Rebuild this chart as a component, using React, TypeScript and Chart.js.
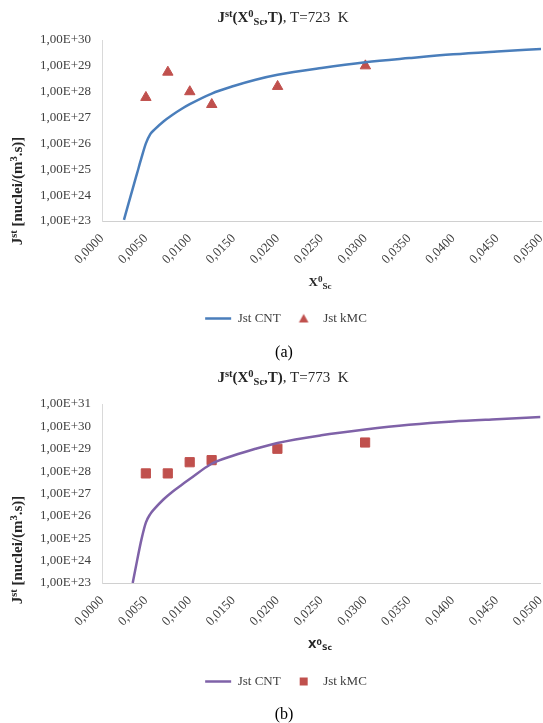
import React, { useEffect, useRef } from 'react';
import { Chart, registerables } from 'chart.js';

Chart.register(...registerables);

// ---------- DATA ----------
const legendLabels = ['Jst CNT', 'Jst kMC'];

// Panel (a) T = 723 K
const cntXA = [0.0025, 0.003, 0.0035, 0.004, 0.0045, 0.005, 0.0055, 0.006, 0.007, 0.008, 0.009, 0.01, 0.0125, 0.015, 0.0175, 0.02, 0.025, 0.03, 0.035, 0.04, 0.045, 0.05];
const cntYA = [1.1e23, 4.5e23, 1.8e24, 7.1e24, 2.8e25, 1.0e26, 2.3e26, 3.5e26, 7.1e26, 1.26e27, 2.1e27, 3.3e27, 8.5e27, 1.66e28, 2.9e28, 4.5e28, 8.3e28, 1.38e29, 2.0e29, 2.8e29, 3.6e29, 4.5e29];
const kmcXA = [0.005, 0.0075, 0.01, 0.0125, 0.02, 0.03];
const kmcYA = [6.0e27, 5.7e28, 1.0e28, 3.2e27, 1.6e28, 1.0e29];
const yExpA = [23, 24, 25, 26, 27, 28, 29, 30];

// Panel (b) T = 773 K
const cntXB = [0.0035, 0.004, 0.0045, 0.005, 0.0055, 0.006, 0.007, 0.008, 0.009, 0.01, 0.0125, 0.015, 0.0175, 0.02, 0.025, 0.03, 0.035, 0.04, 0.045, 0.05];
const cntYB = [1.0e23, 1.0e24, 8.9e24, 5.0e25, 1.2e26, 2.1e26, 5.4e26, 1.17e27, 2.3e27, 4.4e27, 2.14e28, 5.0e28, 1.0e29, 1.82e29, 4.0e29, 7.2e29, 1.17e30, 1.66e30, 2.1e30, 2.6e30];
const kmcXB = [0.005, 0.0075, 0.01, 0.0125, 0.02, 0.03];
const kmcYB = [7.9e27, 7.9e27, 2.5e28, 3.1e28, 1.0e29, 1.9e29];
const yExpB = [23, 24, 25, 26, 27, 28, 29, 30, 31];

const xMin = 0;
const xMax = 0.05;
const xStep = 0.005;

// ---------- CHART ----------
const SERIF = "'Liberation Serif', 'Times New Roman', serif";
const MARKER = '#C0504D';
const CANVAS_W = 548;

type PanelCfg = {
  cntX: number[];
  cntY: number[];
  kmcX: number[];
  kmcY: number[];
  yExp: number[];
  lineColor: string;
  markerStyle: string;
  markerRadius: number;
  padTop: number;
  padBottom: number;
  xAxisHeight: number;
};

function legendMarker(style: string): HTMLCanvasElement {
  const c = document.createElement('canvas');
  c.width = 12;
  c.height = 12;
  const ctx = c.getContext('2d')!;
  ctx.fillStyle = MARKER;
  if (style === 'triangle') {
    ctx.beginPath();
    ctx.moveTo(6, 1.5);
    ctx.lineTo(10.8, 10);
    ctx.lineTo(1.2, 10);
    ctx.closePath();
    ctx.fill();
  } else {
    ctx.fillRect(2, 2, 8, 8);
  }
  return c;
}

function buildConfig(p: PanelCfg): any {
  const legendShift = {
    id: 'legendShift',
    afterLayout(chart: any) {
      const l = chart.legend;
      if (l) {
        l.left += 12;
        l.right += 12;
      }
    },
  };
  const marker = legendMarker(p.markerStyle);
  return {
    type: 'scatter',
    data: {
      datasets: [
        {
          label: legendLabels[0],
          data: p.cntX.map((x, i) => ({ x, y: p.cntY[i] })),
          showLine: true,
          borderColor: p.lineColor,
          backgroundColor: p.lineColor,
          borderWidth: 2.5,
          pointRadius: 0,
          pointHoverRadius: 0,
          pointStyle: 'line',
          cubicInterpolationMode: 'monotone',
          order: 1,
        },
        {
          label: legendLabels[1],
          data: p.kmcX.map((x, i) => ({ x, y: p.kmcY[i] })),
          showLine: false,
          pointStyle: p.markerStyle,
          pointRadius: p.markerRadius,
          pointHoverRadius: p.markerRadius,
          backgroundColor: MARKER,
          borderColor: MARKER,
          borderWidth: 1,
          order: 2,
        },
      ],
    },
    options: {
      animation: false,
      responsive: false,
      maintainAspectRatio: false,
      events: [],
      layout: { padding: { top: p.padTop, bottom: p.padBottom, left: 0, right: 0 } },
      scales: {
        x: {
          type: 'linear',
          min: xMin,
          max: xMax,
          grid: { display: false, drawTicks: false },
          border: { display: true, color: '#D0D0D0', width: 1 },
          ticks: {
            stepSize: xStep,
            minRotation: 45,
            maxRotation: 45,
            padding: 10,
            color: '#404040',
            font: { family: SERIF, size: 13 },
            callback: (v: number) => v.toFixed(4).replace('.', ','),
          },
          afterFit: (s: any) => {
            s.height = p.xAxisHeight;
            s.paddingRight = 0;
            s.paddingLeft = 0;
          },
        },
        y: {
          type: 'logarithmic',
          min: Math.pow(10, p.yExp[0]),
          max: Math.pow(10, p.yExp[p.yExp.length - 1]),
          grid: { display: false, drawTicks: false },
          border: { display: true, color: '#D9D9D9', width: 1 },
          afterBuildTicks: (s: any) => {
            s.ticks = p.yExp.map((e) => ({ value: Math.pow(10, e) }));
          },
          ticks: {
            padding: 11,
            color: '#404040',
            font: { family: SERIF, size: 13 },
            callback: (v: number) => '1,00E+' + Math.round(Math.log10(v)),
          },
          afterFit: (s: any) => {
            s.width = 102;
            s.paddingTop = 0;
            s.paddingBottom = 0;
          },
        },
      },
      plugins: {
        title: { display: false },
        tooltip: { enabled: false },
        legend: {
          display: true,
          position: 'bottom',
          labels: {
            usePointStyle: true,
            pointStyleWidth: 26,
            padding: 10,
            color: '#404040',
            font: { family: SERIF, size: 13 },
            generateLabels: (chart: any) => {
              const items = Chart.defaults.plugins.legend.labels.generateLabels(chart);
              if (items[1]) items[1].pointStyle = marker;
              return items;
            },
          },
        },
      },
    },
    plugins: [legendShift],
  };
}

function ChartCanvas({ top, height, cfg }: { top: number; height: number; cfg: PanelCfg }) {
  const ref = useRef<HTMLCanvasElement | null>(null);
  useEffect(() => {
    if (!ref.current) return;
    const chart = new Chart(ref.current, buildConfig(cfg));
    return () => chart.destroy();
  }, []);
  return (
    <canvas
      ref={ref}
      width={CANVAS_W}
      height={height}
      style={{ position: 'absolute', left: 0, top, width: CANVAS_W, height }}
    />
  );
}

const supS: React.CSSProperties = { fontSize: '0.7em', verticalAlign: '0.45em', lineHeight: 0 };
const subS: React.CSSProperties = { fontSize: '0.7em', verticalAlign: '-0.3em', lineHeight: 0 };

function Title({ cx, cy, temp }: { cx: number; cy: number; temp: string }) {
  return (
    <div
      style={{
        position: 'absolute', left: cx, top: cy, transform: 'translate(-50%, -50%)',
        whiteSpace: 'nowrap', fontFamily: SERIF, fontSize: 15, lineHeight: '18px', color: '#262626',
      }}
    >
      <b>
        J<span style={supS}>st</span>(X<span style={supS}>0</span><span style={subS}>Sc</span>,T)
      </b>
      , T={temp}&nbsp; K
    </div>
  );
}

function YTitle({ cx, cy }: { cx: number; cy: number }) {
  return (
    <div
      style={{
        position: 'absolute', left: cx, top: cy, transform: 'translate(-50%, -50%) rotate(-90deg)',
        whiteSpace: 'nowrap', fontFamily: SERIF, fontSize: 15, fontWeight: 'bold', lineHeight: '18px', color: '#262626',
      }}
    >
      J<span style={supS}>st</span> [nuclei/(m<span style={supS}>3</span>.s)]
    </div>
  );
}

function XTitle({ cx, cy, family, size }: { cx: number; cy: number; family: string; size: number }) {
  return (
    <div
      style={{
        position: 'absolute', left: cx, top: cy, transform: 'translate(-50%, -50%)',
        whiteSpace: 'nowrap', fontFamily: family, fontSize: size, fontWeight: 'bold', lineHeight: '16px', color: '#262626',
      }}
    >
      X<span style={supS}>0</span><span style={subS}>Sc</span>
    </div>
  );
}

function Caption({ cx, cy, text }: { cx: number; cy: number; text: string }) {
  return (
    <div
      style={{
        position: 'absolute', left: cx, top: cy, transform: 'translate(-50%, -50%)',
        whiteSpace: 'nowrap', fontFamily: SERIF, fontSize: 16, lineHeight: '18px', color: '#000',
      }}
    >
      {text}
    </div>
  );
}

const cfgA: PanelCfg = {
  cntX: cntXA, cntY: cntYA, kmcX: kmcXA, kmcY: kmcYA, yExp: yExpA,
  lineColor: '#4A7EBB', markerStyle: 'triangle', markerRadius: 6,
  padTop: 40, padBottom: 5, xAxisHeight: 81,
};

const cfgB: PanelCfg = {
  cntX: cntXB, cntY: cntYB, kmcX: kmcXB, kmcY: kmcYB, yExp: yExpB,
  lineColor: '#7F62A8', markerStyle: 'rect', markerRadius: 6.5,
  padTop: 42, padBottom: 9, xAxisHeight: 82,
};

export default function App() {
  return (
    <div style={{ position: 'absolute', left: 0, top: 0, width: 543, height: 723, background: '#fff', overflow: 'hidden' }}>
      <ChartCanvas top={0} height={340} cfg={cfgA} />
      <ChartCanvas top={362} height={345} cfg={cfgB} />
      <Title cx={283} cy={17} temp="723" />
      <YTitle cx={17} cy={191} />
      <XTitle cx={320} cy={282} family={SERIF} size={13} />
      <Caption cx={284} cy={352} text="(a)" />
      <Title cx={283} cy={377} temp="773" />
      <YTitle cx={17} cy={550} />
      <XTitle cx={320} cy={645} family="'DejaVu Sans', 'Liberation Sans', sans-serif" size={11} />
      <Caption cx={284} cy={714} text="(b)" />
    </div>
  );
}
